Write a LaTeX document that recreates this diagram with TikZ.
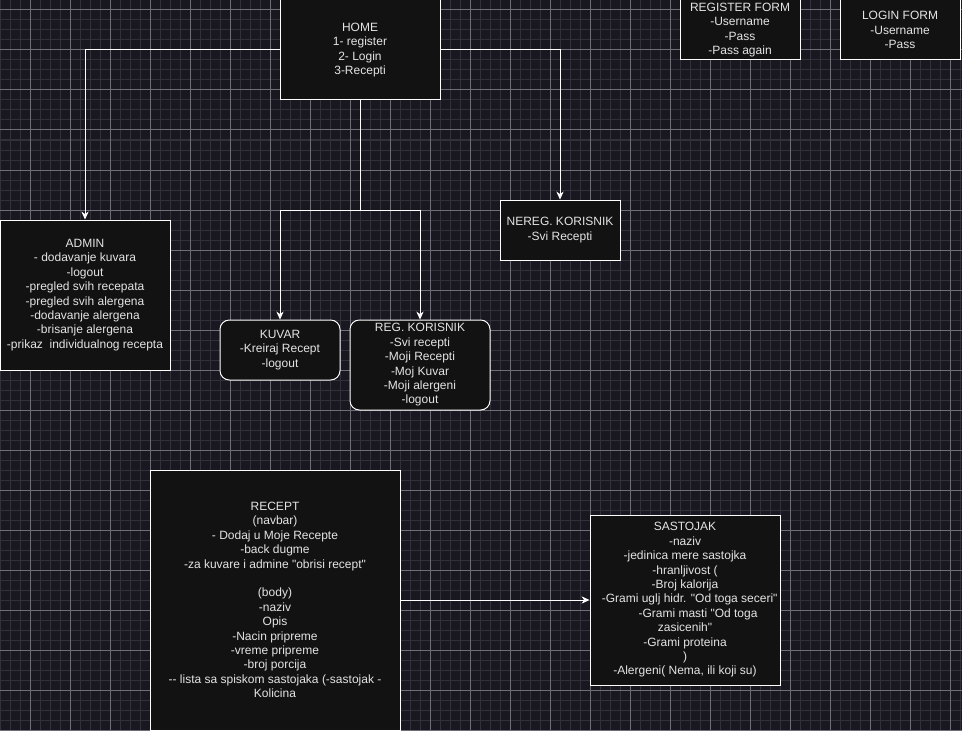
\documentclass[tikz,border=0pt]{standalone}
\usepackage{fontspec}
\setmainfont{Liberation Sans}[Ligatures=TeXOff]
\usetikzlibrary{arrows.meta}
\definecolor{bgcol}{RGB}{25,23,32}
\definecolor{minorcol}{RGB}{50,48,58}
\definecolor{majorcol}{RGB}{112,109,120}
\definecolor{boxfill}{RGB}{18,18,18}
\definecolor{txtcol}{RGB}{228,228,228}
\begin{document}
\begin{tikzpicture}[x=0.75pt,y=-0.75pt,
  box/.style={draw=white,line width=0.75pt,fill=boxfill,text=txtcol,align=center,inner sep=0pt,
    font=\fontsize{9pt}{10.8pt}\selectfont},
  rbox/.style={box,rounded corners=7pt},
  conn/.style={draw=white,line width=0.75pt},
  arr/.style={conn,-{Stealth[length=6pt,width=5.5pt]}}]
\fill[bgcol] (0,0) rectangle (962,731);
\useasboundingbox (0,0) rectangle (962,731);
\foreach \i in {0,10,...,960} \draw[minorcol,line width=0.75pt] (\i,0) -- (\i,731);
\foreach \j in {0,10,...,730} \draw[minorcol,line width=0.75pt] (0,\j) -- (962,\j);
\foreach \i in {30,70,...,950} \draw[majorcol,line width=0.75pt] (\i,0) -- (\i,731);
\foreach \j in {10,50,...,730} \draw[majorcol,line width=0.75pt] (0,\j) -- (962,\j);

\node[box,minimum width=120pt,minimum height=75pt] (home) at (360,50) {HOME\\1- register\\2- Login\\3-Recepti};
\node[box,minimum width=90pt,minimum height=45pt] (regform) at (740,30) {REGISTER FORM\\-Username\\-Pass\\-Pass again};
\node[box,minimum width=90pt,minimum height=45pt] (loginform) at (900,30) {LOGIN FORM\\-Username\\-Pass};
\node[box,minimum width=127.5pt,minimum height=112.5pt] (admin) at (85,295) {ADMIN\\- dodavanje kuvara\\-logout\\-pregled svih recepata\\-pregled svih alergena\\-dodavanje alergena\\-brisanje alergena\\-prikaz\ \ individualnog recepta};
\node[box,minimum width=90pt,minimum height=45pt] (nereg) at (560,230) {NEREG. KORISNIK\\-Svi Recepti};
\node[rbox,minimum width=90pt,minimum height=45pt] (kuvar) at (280,350) {KUVAR\\-Kreiraj Recept\\-logout};
\node[rbox,minimum width=105pt,minimum height=67.5pt] (reg) at (420,365) {REG. KORISNIK\\-Svi recepti\\-Moji Recepti\\-Moj Kuvar\\-Moji alergeni\\-logout};
\node[box,minimum width=187.5pt,minimum height=195pt] (recept) at (275,600) {RECEPT\\(navbar)\\- Dodaj u Moje Recepte\\-back dugme\\-za kuvare i admine "obrisi recept"\\~\\(body)\\-naziv\\Opis\\-Nacin pripreme\\-vreme pripreme\\-broj porcija\\-{}- lista sa spiskom sastojaka (-sastojak -\\Kolicina};
\node[box,minimum width=142.5pt,minimum height=127.5pt] (sastojak) at (685,600) {SASTOJAK\\-naziv\\-jedinica mere sastojka\\-hranljivost (\\-Broj kalorija\\\hspace*{7pt}-Grami uglj hidr. "Od toga seceri"\\\hspace*{19.5pt}-Grami masti "Od toga\\zasicenih"\\-Grami proteina\\)\\-Alergeni( Nema, ili koji su)};

\coordinate (split) at (360,210);
\draw[arr] (home.west) -| (admin.north);
\draw[arr] (home.east) -| (nereg.north);
\draw[conn] (home.south) -- (split);
\draw[arr] (split) -| (kuvar.north);
\draw[arr] (split) -| (reg.north);
\draw[arr] (recept.east) -- (sastojak.west);
\end{tikzpicture}
\end{document}
